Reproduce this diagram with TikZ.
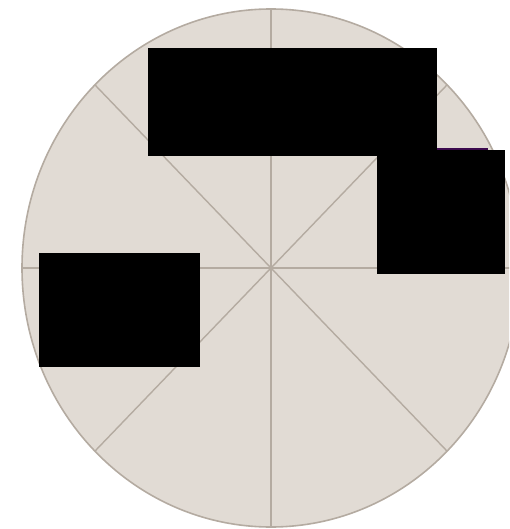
\documentclass[tikz,border=0pt]{standalone}
\usepackage{xcolor}
\usepackage{tikz}

\definecolor{dialfill}{HTML}{E1DBD4}
\definecolor{dialline}{HTML}{B4ABA1}
\definecolor{markline}{HTML}{3C0A4E}

\begin{document}
\begin{tikzpicture}[
    x=1pt, y=-1pt,
    dial/.style={fill=dialfill, draw=dialline, line width=1.6pt},
    spoke/.style={draw=dialline, line width=1.4pt},
    redact/.style={fill=black}
]
    \useasboundingbox (0,0) rectangle (509,529);
    \clip (0,0) rectangle (509,529);

    % Dial
    \coordinate (hub) at (271,268);
    \draw[dial] (hub) ellipse (249 and 259);

    % Spokes
    \foreach \a in {0,45,...,315}
        \draw[spoke] (hub) -- ++(\a:249 and 259);

    % Redaction boxes
    \fill[redact] (148,48) rectangle (437,156);
    \draw[markline, line width=1.2pt] (437,149) -- (488,149);
    \fill[redact] (377,150) rectangle (505,274);
    \fill[redact] (39,253) rectangle (200,367);

\end{tikzpicture}
\end{document}
